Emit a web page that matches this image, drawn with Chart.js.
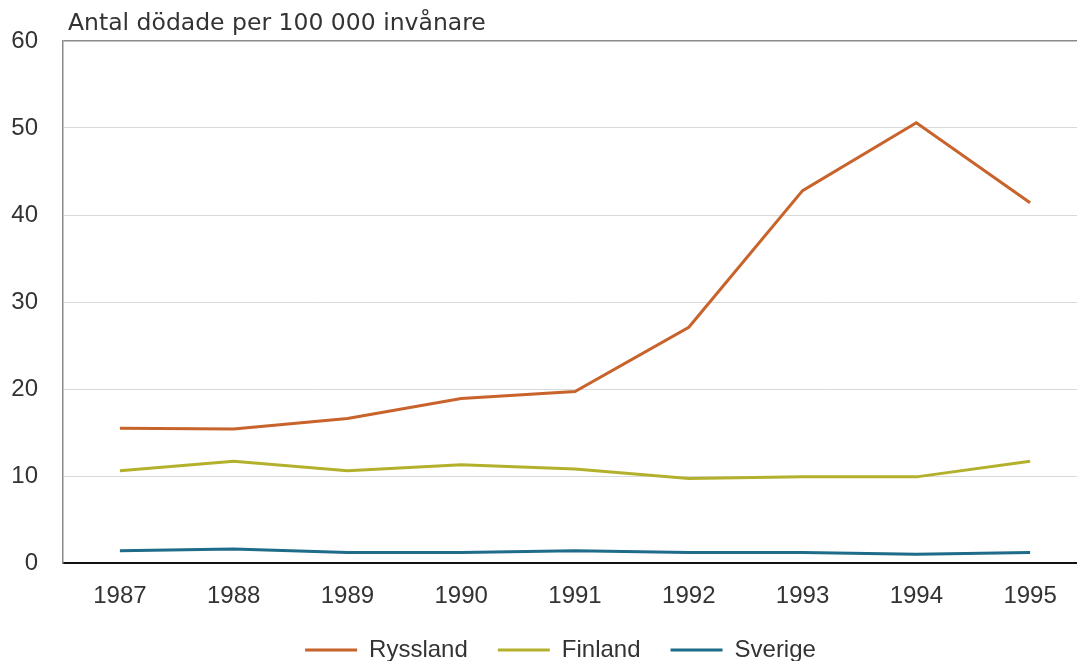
<!DOCTYPE html>
<html lang="sv">
<head>
<meta charset="utf-8">
<title>Antal dödade per 100 000 invånare</title>
<script src="https://cdn.jsdelivr.net/npm/chart.js@4"></script>
<style>
    html, body { margin: 0; padding: 0; background: #fff; overflow: hidden; }
    #wrap { width: 1100px; height: 661px; }
</style>
</head>
<body>
<div id="wrap"><canvas id="lineChart" width="1100" height="661"></canvas></div>
<script>
// Years on the x axis
const years = ['1987', '1988', '1989', '1990', '1991', '1992', '1993', '1994', '1995'];

// Deaths per 100 000 inhabitants
const ryssland = [15.5, 15.4, 16.6, 18.9, 19.7, 27.1, 42.8, 50.6, 41.4];
const finland = [10.6, 11.7, 10.6, 11.3, 10.8, 9.7, 9.9, 9.9, 11.7];
const sverige = [1.4, 1.6, 1.2, 1.2, 1.4, 1.2, 1.2, 1.0, 1.2];

const seriesNames = ['Ryssland', 'Finland', 'Sverige'];
const seriesColors = ['#c8632b', '#b3b12c', '#1f6b8a'];

const yTitle = 'Antal dödade per 100 000 invånare';

// Draws the unit text just above the plot frame
const unitLabel = {
    id: 'unitLabel',
    afterDraw(chart) {
        const ctx = chart.ctx;
        ctx.save();
        ctx.font = '23.5px "DejaVu Sans"';
        ctx.fillStyle = '#333333';
        ctx.textBaseline = 'alphabetic';
        ctx.fillText(yTitle, chart.chartArea.left + 5, chart.chartArea.top - 11);
        ctx.restore();
    }
};

// Nudge the legend a bit right and up from where the layout puts it
const legendShift = {
    id: 'legendShift',
    afterLayout(chart) {
        const lg = chart.legend;
        lg.left += 17;
        lg.right += 17;
        lg.top -= 9;
        lg.bottom -= 9;
    }
};

const ctx = document.getElementById('lineChart').getContext('2d');

new Chart(ctx, {
    type: 'line',
    data: {
        labels: years,
        datasets: [ryssland, finland, sverige].map((values, i) => ({
            label: seriesNames[i],
            data: values,
            borderColor: seriesColors[i],
            backgroundColor: seriesColors[i],
            borderWidth: 3,
            pointRadius: 0,
            tension: 0
        }))
    },
    options: {
        responsive: false,
        animation: false,
        layout: { padding: { left: 0, right: 13, top: 41, bottom: -20 } },
        plugins: {
            legend: {
                position: 'bottom',
                labels: {
                    usePointStyle: true,
                    pointStyle: 'line',
                    pointStyleWidth: 52,
                    padding: 30,
                    color: '#333333',
                    font: { family: '"Liberation Sans", Arial, sans-serif', size: 24 }
                }
            },
            tooltip: { enabled: false }
        },
        scales: {
            x: {
                offset: true,
                grid: { display: false, offset: true },
                border: { color: '#111111', width: 2 },
                ticks: {
                    padding: 11,
                    color: '#333333',
                    font: { family: '"Liberation Sans", Arial, sans-serif', size: 24 }
                },
                afterFit(scale) { scale.height = 54; }
            },
            y: {
                min: 0,
                max: 60,
                ticks: {
                    stepSize: 10,
                    padding: 25,
                    color: '#333333',
                    font: { family: '"Liberation Sans", Arial, sans-serif', size: 24 }
                },
                grid: {
                    drawTicks: false,
                    color: c => c.tick.value === 60 ? '#8a8a8a' : '#d9d9d9',
                    lineWidth: c => c.tick.value === 60 ? 1.5 : 1
                },
                border: { color: '#8a8a8a', width: 1.5 },
                afterFit(scale) { scale.width = 63; }
            }
        }
    },
    plugins: [unitLabel, legendShift]
});
</script>
</body>
</html>
